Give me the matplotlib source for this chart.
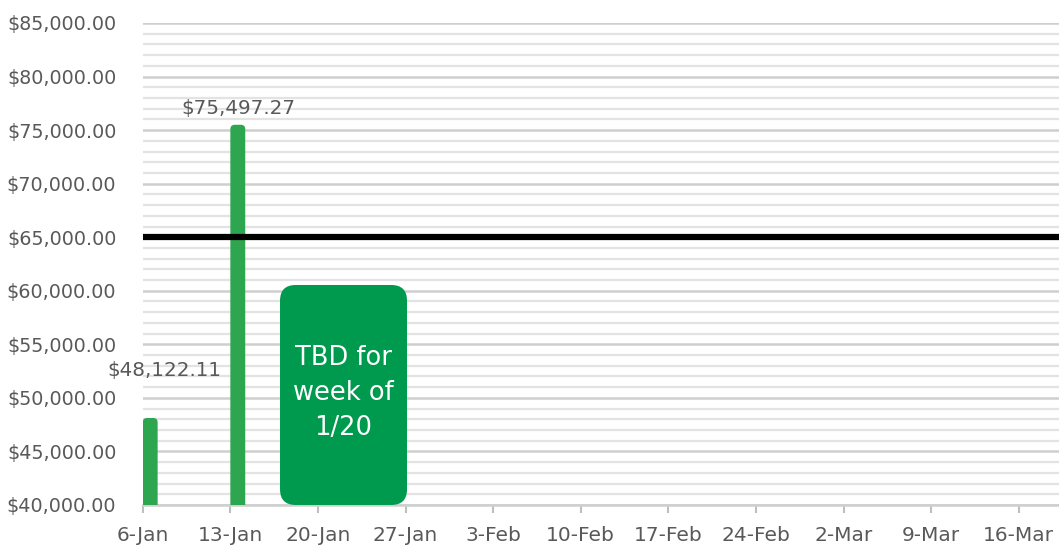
import matplotlib
matplotlib.use("Agg")
import matplotlib.pyplot as plt
from matplotlib.patches import FancyBboxPatch
from matplotlib.ticker import MultipleLocator, FuncFormatter

weeks = ["6-Jan", "13-Jan", "20-Jan", "27-Jan", "3-Feb", "10-Feb",
         "17-Feb", "24-Feb", "2-Mar", "9-Mar", "16-Mar"]
sales = [48122.11, 75497.27]
goal = 65000
note = "TBD for\nweek of\n1/20"

bar_green = "#2ea64f"
box_green = "#009a4e"
text_gray = "#595959"

fig = plt.figure(figsize=(10.59, 5.46), dpi=100)
ax = fig.add_axes([0.1348, 0.0751, 0.8652, 0.8828])

ax.set_ylim(40000, 85000)
ax.set_xlim(0, 10.46)

# y units per x unit in pixels, for round corners
aspect = (45000 / 482) * 87.6

x = list(range(len(weeks)))
bars = ax.bar(x[:len(sales)], sales, width=0.17, align="edge",
              color=bar_green, zorder=3)
# swap plain bars for ones with rounded tops (bottom hidden below the axis)
for b in bars:
    b.set_visible(False)
    ax.add_patch(FancyBboxPatch((b.get_x(), 38000), b.get_width(),
                                b.get_height() - 38000,
                                boxstyle="round,pad=0,rounding_size=0.05",
                                mutation_aspect=aspect, facecolor=bar_green,
                                edgecolor="none", zorder=3))

ax.axhline(goal, color="black", lw=4.5, zorder=4)

# value labels
ax.text(0.25, 52600, f"${sales[0]:,.2f}", ha="center", va="center",
        fontsize=14.3, color=text_gray, zorder=5)
ax.text(1.09, 77000, f"${sales[1]:,.2f}", ha="center", va="center",
        fontsize=14.3, color=text_gray, zorder=5)

# note box
box = FancyBboxPatch((1.567, 40000), 3.017 - 1.567, 20540,
                     boxstyle="round,pad=0,rounding_size=0.18",
                     mutation_aspect=aspect, facecolor=box_green,
                     edgecolor="none", zorder=5)
ax.add_patch(box)
ax.text(2.292, 50450, note, ha="center", va="center", color="white",
        fontsize=18.5, linespacing=1.45, zorder=6)

# grid
ax.yaxis.set_major_locator(MultipleLocator(5000))
ax.yaxis.set_minor_locator(MultipleLocator(1000))
ax.yaxis.set_major_formatter(FuncFormatter(lambda v, p: f"${v:,.2f}"))
ax.grid(axis="y", which="major", color="#cfcfcf", lw=1.8, zorder=0)
ax.grid(axis="y", which="minor", color="#e3e3e3", lw=1.6, zorder=0)
ax.set_axisbelow(True)

ax.set_xticks(x)
ax.set_xticklabels(weeks)
ax.tick_params(axis="x", length=6, width=1.5, color="#bfbfbf",
               labelsize=14.5, labelcolor=text_gray, pad=9)
ax.tick_params(axis="y", which="both", length=0, labelsize=13.8,
               labelcolor=text_gray, pad=19)

for side in ["top", "right", "left"]:
    ax.spines[side].set_visible(False)
ax.spines["bottom"].set_color("#cfcfcf")
ax.spines["bottom"].set_linewidth(1.8)

fig.savefig("out.png", dpi=100)
